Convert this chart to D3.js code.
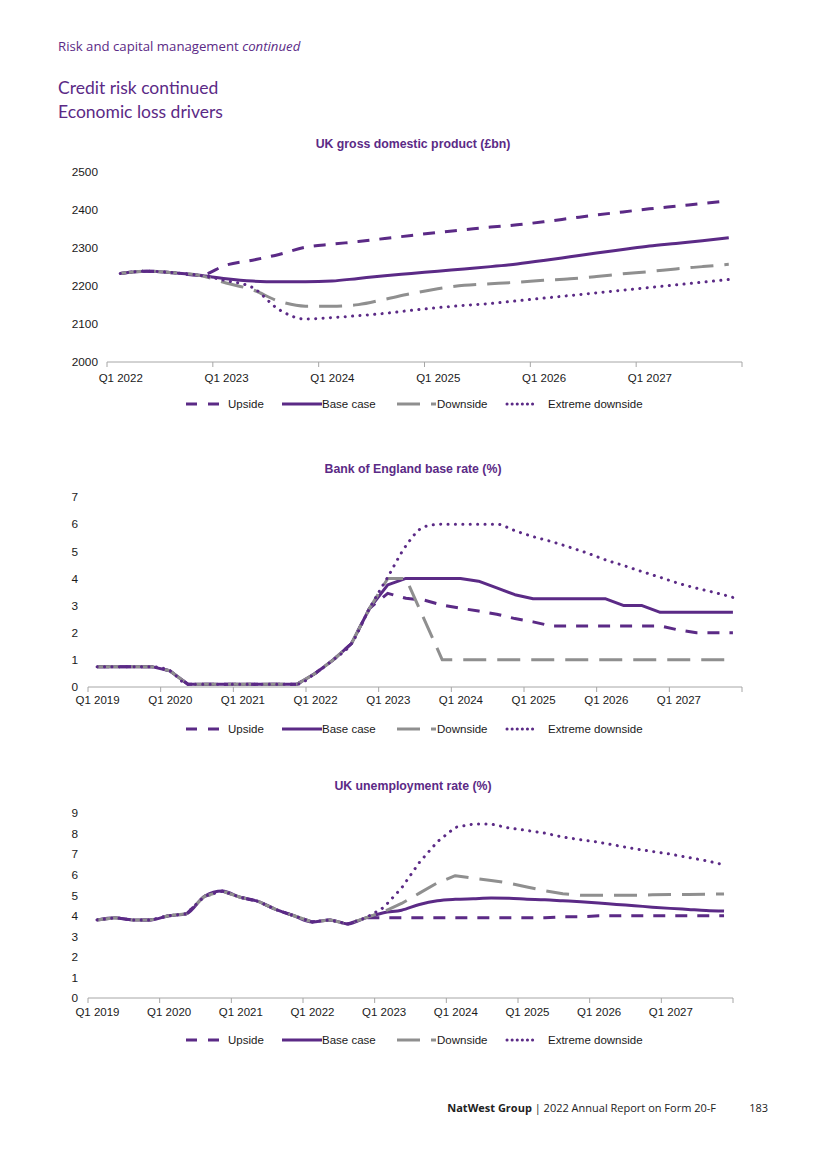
<!DOCTYPE html>
<html><head><meta charset="utf-8">
<script src="https://cdn.jsdelivr.net/npm/d3@7"></script>
<style>
body{margin:0;background:#fff;}
svg{display:block;}
</style>
</head><body>
<svg id="c" width="825" height="1168"></svg>
<script>
// ---------- DATA ----------
const quarterNames = ["Q1","Q2","Q3","Q4"];
const gdpYears = [2022, 2023, 2024, 2025, 2026, 2027];
const histYears = [2019, 2020, 2021, 2022, 2023, 2024, 2025, 2026, 2027];
const gdpCategories = gdpYears.flatMap(y => quarterNames.map(q => q + " " + y));
const histCategories = histYears.flatMap(y => quarterNames.map(q => q + " " + y));

const gdpTickLabels = ["Q1 2022","Q1 2023","Q1 2024","Q1 2025","Q1 2026","Q1 2027"];
const histTickLabels = ["Q1 2019","Q1 2020","Q1 2021","Q1 2022","Q1 2023","Q1 2024","Q1 2025","Q1 2026","Q1 2027"];
const seriesNames = ["Upside","Base case","Downside","Extreme downside"];

const gdpYTicks = [2000, 2100, 2200, 2300, 2400, 2500];
const rateYTicks = [0, 1, 2, 3, 4, 5, 6, 7];
const unempYTicks = [0, 1, 2, 3, 4, 5, 6, 7, 8, 9];

// UK GDP (£bn), Q1 2022 - Q4 2027
const gdpUpside   = [2233,2239,2235,2228,2255,2268,2283,2302,2310,2317,2325,2333,2341,2348,2355,2361,2369,2378,2387,2395,2403,2410,2417,2424];
const gdpBase     = [2233,2239,2235,2228,2219,2213,2211,2211,2213,2220,2227,2233,2239,2245,2251,2258,2267,2277,2287,2296,2305,2312,2319,2327];
const gdpDownside = [2233,2239,2235,2228,2208,2190,2160,2147,2147,2151,2165,2180,2193,2202,2206,2210,2215,2219,2225,2232,2238,2245,2251,2257];
const gdpExtreme  = [2233,2239,2235,2228,2214,2196,2138,2113,2117,2122,2128,2136,2143,2149,2154,2161,2168,2175,2182,2189,2196,2203,2210,2217];

// Bank of England base rate (%), Q1 2019 - Q4 2027
const rateUpside   = [0.75,0.75,0.75,0.75,0.6,0.1,0.1,0.1,0.1,0.1,0.1,0.1,0.5,1.0,1.6,2.9,
                      3.45,3.27,3.2,3.02,2.9,2.8,2.68,2.52,2.4,2.25,2.25,2.25,2.25,2.25,2.25,2.25,2.1,2.0,2.0,2.0];
const rateBase     = [0.75,0.75,0.75,0.75,0.6,0.1,0.1,0.1,0.1,0.1,0.1,0.1,0.5,1.0,1.6,2.9,
                      3.76,4.0,4.0,4.0,4.0,3.9,3.65,3.4,3.25,3.25,3.25,3.25,3.25,3.0,3.0,2.75,2.75,2.75,2.75,2.75];
const rateDownside = [0.75,0.75,0.75,0.75,0.6,0.1,0.1,0.1,0.1,0.1,0.1,0.1,0.5,1.0,1.6,2.9,
                      4.0,4.0,2.5,1.0,1.0,1.0,1.0,1.0,1.0,1.0,1.0,1.0,1.0,1.0,1.0,1.0,1.0,1.0,1.0,1.0];
const rateExtreme  = [0.75,0.75,0.75,0.75,0.6,0.1,0.1,0.1,0.1,0.1,0.1,0.1,0.5,1.0,1.6,2.9,
                      4.05,5.2,5.9,6.0,6.0,6.0,6.0,5.76,5.54,5.36,5.15,4.93,4.68,4.47,4.25,4.04,3.82,3.64,3.48,3.3];

// UK unemployment rate (%), Q1 2019 - Q4 2027
const unempUpside   = [3.8,3.9,3.8,3.8,4.0,4.1,4.95,5.2,4.9,4.7,4.3,4.0,3.7,3.8,3.6,3.9,
                       3.9,3.9,3.9,3.9,3.9,3.9,3.9,3.9,3.9,3.9,3.95,3.95,4.0,4.0,4.0,4.0,4.0,4.0,4.0,4.0];
const unempBase     = [3.8,3.9,3.8,3.8,4.0,4.1,4.95,5.2,4.9,4.7,4.3,4.0,3.7,3.8,3.6,3.9,
                       4.15,4.27,4.55,4.73,4.8,4.83,4.86,4.85,4.81,4.78,4.73,4.68,4.62,4.55,4.49,4.42,4.36,4.31,4.26,4.23];
const unempDownside = [3.8,3.9,3.8,3.8,4.0,4.1,4.95,5.2,4.9,4.7,4.3,4.0,3.7,3.8,3.6,3.9,
                       4.2,4.6,5.1,5.6,5.95,5.83,5.72,5.59,5.4,5.22,5.07,5.0,5.0,5.0,5.0,5.02,5.03,5.04,5.05,5.06];
const unempExtreme  = [3.8,3.9,3.8,3.8,4.0,4.1,4.95,5.2,4.9,4.7,4.3,4.0,3.7,3.8,3.6,3.9,
                       4.4,5.35,6.6,7.6,8.3,8.46,8.46,8.27,8.15,8.02,7.83,7.7,7.58,7.42,7.26,7.13,7.0,6.84,6.68,6.48];

// ---------- STYLE ----------
const PURPLE = "#5b2a86";
const GRAY = "#8f8f8f";
const AXIS = "#a6a6a6";
const CHART_FONT = "'Liberation Sans', Arial, sans-serif";
const HEAD_FONT = "Lato, 'Noto Sans', sans-serif";
const SMALL_HEAD_FONT = "'Open Sans', Lato, sans-serif";

const lineStyle = {
  "Upside":           {color: PURPLE, dash: "12,10", width: 3, cap: "butt",  legendDash: "11,11"},
  "Base case":        {color: PURPLE, dash: null,    width: 3, cap: "butt",  legendDash: null},
  "Downside":         {color: GRAY,   dash: "23,11", width: 3, cap: "butt",  legendDash: "23,11"},
  "Extreme downside": {color: PURPLE, dash: "0.1,7.3", width: 3, cap: "round", legendDash: "0.1,5"}
};

const svg = d3.select("#c");

// ---------- HEADER / FOOTER ----------
const h1 = svg.append("text").attr("x", 58).attr("y", 51)
  .attr("font-family", SMALL_HEAD_FONT).attr("font-size", 13.2).attr("fill", PURPLE);
h1.append("tspan").text("Risk and capital management ");
h1.append("tspan").attr("font-style", "italic").text("continued");

svg.append("text").attr("x", 58).attr("y", 94)
  .attr("font-family", HEAD_FONT).attr("font-size", 17.5).attr("fill", PURPLE)
  .text("Credit risk continued");
svg.append("text").attr("x", 58).attr("y", 118)
  .attr("font-family", HEAD_FONT).attr("font-size", 17.5).attr("fill", PURPLE)
  .text("Economic loss drivers");

const foot = svg.append("text").attr("x", 716).attr("y", 1112).attr("text-anchor", "end")
  .attr("font-family", SMALL_HEAD_FONT).attr("font-size", 11).attr("fill", "#222");
foot.append("tspan").attr("font-weight", "bold").text("NatWest Group");
foot.append("tspan").text(" | 2022 Annual Report on Form 20-F");
svg.append("text").attr("x", 768).attr("y", 1112).attr("text-anchor", "end")
  .attr("font-family", SMALL_HEAD_FONT).attr("font-size", 11).attr("fill", "#222").text("183");

// ---------- CHART ----------
function drawChart(cfg) {
  const g = svg.append("g");
  const x = d3.scalePoint().domain(cfg.categories).range(cfg.xRange).padding(0.5);
  const y = d3.scaleLinear().domain(cfg.yDomain).range(cfg.yRange);
  const step = x.step();
  const axisY = y(cfg.yDomain[0]);

  // title
  g.append("text").attr("x", 413).attr("y", cfg.titleY).attr("text-anchor", "middle")
    .attr("font-family", CHART_FONT).attr("font-weight", "bold").attr("font-size", 12.3)
    .attr("fill", PURPLE).text(cfg.title);

  // y axis labels
  const ya = g.append("g").attr("transform", `translate(${cfg.xRange[0]},0)`)
    .call(d3.axisLeft(y).tickValues(cfg.yTicks).tickSize(0).tickPadding(cfg.yPad).tickFormat(d3.format("d")));
  ya.select(".domain").remove();
  ya.selectAll("text").attr("font-family", CHART_FONT).attr("font-size", 11.8).attr("fill", "#1a1a1a");

  // x axis line + labels
  const xa = g.append("g").attr("transform", `translate(0,${axisY})`)
    .call(d3.axisBottom(x).tickValues(cfg.tickLabels).tickSize(0).tickPadding(cfg.xPad));
  xa.select(".domain").remove();
  xa.selectAll("text").attr("font-family", CHART_FONT).attr("font-size", 11.5).attr("fill", "#1a1a1a");
  g.append("line").attr("x1", cfg.xRange[0]).attr("x2", cfg.xRange[1])
    .attr("y1", axisY).attr("y2", axisY).attr("stroke", AXIS).attr("stroke-width", 1);
  // tick marks at category boundaries every 4 quarters
  const boundaries = cfg.categories.filter((c, i) => i % 4 === 0).map(c => x(c) - step / 2);
  boundaries.push(x(cfg.categories[cfg.categories.length - 1]) + step / 2);
  g.selectAll(null).data(boundaries).enter().append("line")
    .attr("x1", d => d).attr("x2", d => d)
    .attr("y1", axisY).attr("y2", axisY + 5)
    .attr("stroke", AXIS).attr("stroke-width", 1);

  // lines
  seriesNames.forEach((name, si) => {
    const st = lineStyle[name];
    const curve = cfg.curves[si] === "smooth" ? d3.curveMonotoneX : d3.curveLinear;
    const line = d3.line().x((d, i) => x(cfg.categories[i])).y(d => y(d)).curve(curve);
    g.append("path").datum(cfg.series[si])
      .attr("d", line).attr("fill", "none")
      .attr("stroke", st.color).attr("stroke-width", st.width)
      .attr("stroke-dasharray", st.dash).attr("stroke-linecap", st.cap)
      .attr("stroke-linejoin", "round");
  });

  // legend
  const legendPos = [{s: 186, t: 228}, {s: 282, t: 322}, {s: 397, t: 437}, {s: 507, t: 548}];
  const legendLen = [35, 40, 39, 27];
  seriesNames.forEach((name, si) => {
    const st = lineStyle[name];
    const p = legendPos[si];
    g.append("line").attr("x1", p.s).attr("x2", p.s + legendLen[si])
      .attr("y1", cfg.legendY).attr("y2", cfg.legendY)
      .attr("stroke", st.color).attr("stroke-width", st.width)
      .attr("stroke-dasharray", st.legendDash).attr("stroke-linecap", st.cap);
    g.append("text").attr("x", p.t).attr("y", cfg.legendY).attr("dy", "0.35em")
      .attr("font-family", CHART_FONT).attr("font-size", 11.5).attr("fill", "#1a1a1a").text(name);
  });
}

drawChart({
  title: "UK gross domestic product (£bn)", titleY: 148,
  categories: gdpCategories, tickLabels: gdpTickLabels,
  series: [gdpUpside, gdpBase, gdpDownside, gdpExtreme],
  curves: ["smooth", "smooth", "smooth", "smooth"],
  yDomain: [2000, 2500], yRange: [362, 172], yTicks: gdpYTicks,
  xRange: [107, 742], yPad: 9, xPad: 12, legendY: 404
});

drawChart({
  title: "Bank of England base rate (%)", titleY: 473,
  categories: histCategories, tickLabels: histTickLabels,
  series: [rateUpside, rateBase, rateDownside, rateExtreme],
  curves: ["linear", "linear", "linear", "smooth"],
  yDomain: [0, 7], yRange: [687, 497], yTicks: rateYTicks,
  xRange: [88, 742], yPad: 10, xPad: 9, legendY: 729
});

drawChart({
  title: "UK unemployment rate (%)", titleY: 790,
  categories: histCategories, tickLabels: histTickLabels,
  series: [unempUpside, unempBase, unempDownside, unempExtreme],
  curves: ["linear", "smooth", "linear", "linear"],
  yDomain: [0, 9], yRange: [998, 813], yTicks: unempYTicks,
  xRange: [88, 733], yPad: 10, xPad: 10, legendY: 1040
});
</script>
</body></html>
